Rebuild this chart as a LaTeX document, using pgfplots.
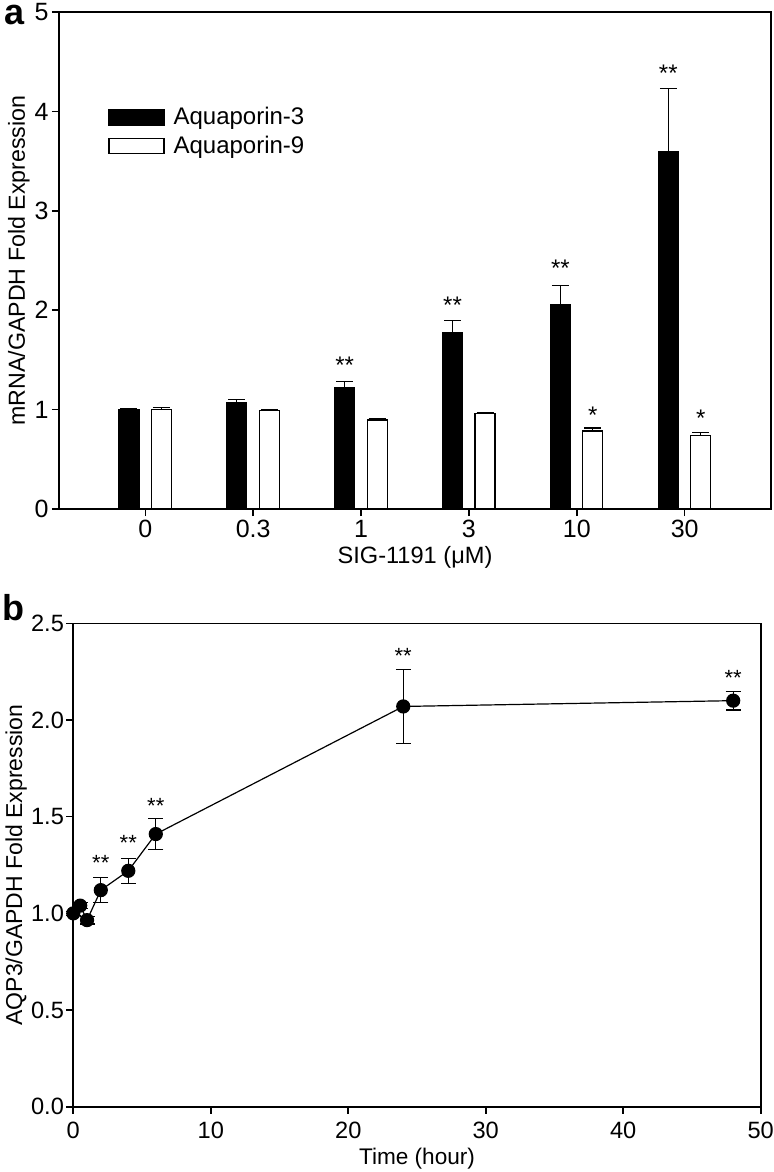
\documentclass[border=0pt]{standalone}
\usepackage{fontspec}
\setmainfont{Liberation Sans}
\usepackage{pgfplots}
\usepackage{pgfplotstable}
\pgfplotsset{compat=1.18}
\pgfplotstableread{
cat black berr white werr
0 1.00 0.010 1.00 0.025
1 1.07 0.035 0.99 0.010
2 1.22 0.065 0.895 0.012
3 1.77 0.130 0.96 0.005
4 2.06 0.190 0.785 0.030
5 3.60 0.630 0.74 0.030
}\dataA
\pgfplotstableread{
t y e
0 1.00 0.01
0.5 1.04 0.015
1 0.965 0.02
2 1.12 0.065
4 1.22 0.065
6 1.41 0.08
24 2.07 0.19
48 2.10 0.048
}\dataB
\begin{document}
\begin{tikzpicture}
\useasboundingbox (0,0) rectangle (387pt,-586pt);
\begin{axis}[
  at={(29.5pt,-254.5pt)}, anchor=south west,
  scale only axis, width=356pt, height=248.5pt,
  xmin=-0.8, xmax=5.8, ymin=0, ymax=5,
  xtick={0,...,5}, xticklabels={0,0.3,1,3,10,30},
  ytick={0,1,2,3,4,5},
  tick align=outside, major tick length=3.5pt,
  xtick pos=bottom, ytick pos=left,
  axis line style={line width=0.8pt},
  tick style={line width=0.8pt, black},
  ticklabel style={font=\fontsize{12.5}{14}\selectfont},
  /pgf/number format/assume math mode=true,
  xticklabel style={inner sep=2pt},
  yticklabel style={inner sep=1.5pt},
  xlabel={SIG-1191 (μM)},
  xlabel style={font=\fontsize{11.8}{14}\selectfont, at={(axis description cs:0.5,0)}, anchor=base, yshift=-27pt},
  ylabel={mRNA/GAPDH Fold Expression},
  ylabel style={font=\fontsize{11.6}{14}\selectfont, at={(axis description cs:-0.0478,0.5)}, anchor=base},
  legend style={at={(0.0688,0.817)}, anchor=north west, draw=none, fill=none,
    font=\fontsize{12}{14}\selectfont, inner sep=0pt, row sep=0pt,
    nodes={inner sep=2pt}},
  legend cell align=left,
  clip=false,
]
\addplot[ybar, bar width=10pt, bar shift=0pt, fill=black, draw=black, line width=0.6pt,
  legend image code/.code={\draw[fill=black, draw=black, line width=0.6pt] (0pt,-3.75pt) rectangle (27.5pt,3.75pt);},
  error bars/.cd, y dir=plus, y explicit,
  error bar style={line width=0.6pt, black},
  error mark options={rotate=90, line width=0.6pt, mark size=4.25pt, black}]
  table[x expr=\thisrow{cat}-0.152, y=black, y error=berr] {\dataA};
\addlegendentry{\hspace{2.5pt}Aquaporin-3}
\addplot[ybar, bar width=10pt, bar shift=0pt, fill=white, draw=black, line width=0.6pt,
  legend image code/.code={\draw[fill=white, draw=black, line width=0.6pt] (0pt,-3.75pt) rectangle (27.5pt,3.75pt);},
  error bars/.cd, y dir=plus, y explicit,
  error bar style={line width=0.6pt, black},
  error mark options={rotate=90, line width=0.6pt, mark size=4.25pt, black}]
  table[x expr=\thisrow{cat}+0.149, y=white, y error=werr] {\dataA};
\addlegendentry{\hspace{2.5pt}Aquaporin-9}
\begin{scope}[every node/.style={font=\fontsize{12}{14}\selectfont, inner sep=0pt, yshift=-2.6pt}]
\node at (axis cs:1.848,1.50) {**};
\node at (axis cs:2.848,2.10) {**};
\node at (axis cs:3.848,2.47) {**};
\node at (axis cs:4.848,4.44) {**};
\node at (axis cs:4.149,1.00) {*};
\node at (axis cs:5.149,0.97) {*};
\end{scope}
\end{axis}
\node[anchor=base west, font=\fontsize{18}{20}\selectfont\bfseries, inner sep=0pt] at (2pt,-12.5pt) {a};
\node[anchor=base west, font=\fontsize{18}{20}\selectfont\bfseries, inner sep=0pt] at (1pt,-310pt) {b};
\begin{axis}[
  at={(36.65pt,-553.35pt)}, anchor=south west,
  scale only axis, width=343.7pt, height=241.7pt,
  xmin=0, xmax=50, ymin=0, ymax=2.5,
  xtick={0,10,20,30,40,50},
  ytick={0,0.5,1,1.5,2,2.5},
  tick align=outside, major tick length=3.5pt,
  xtick pos=bottom, ytick pos=left,
  axis line style={line width=0.8pt},
  tick style={line width=0.8pt, black},
  ticklabel style={font=\fontsize{11.8}{13}\selectfont},
  /pgf/number format/assume math mode=true,
  yticklabel style={inner sep=1pt, /pgf/number format/.cd, fixed, fixed zerofill, precision=1},
  xticklabel style={inner sep=4pt},
  xlabel={Time (hour)},
  xlabel style={font=\fontsize{11.3}{13}\selectfont, at={(axis description cs:0.5,0)}, anchor=base, yshift=-29pt},
  ylabel={AQP3/GAPDH Fold Expression},
  ylabel style={font=\fontsize{11.5}{13}\selectfont, at={(axis description cs:-0.0745,0.5)}, anchor=base},
  clip=false,
]
\addplot[black, line width=0.6pt, mark=*, mark size=3.25pt, mark options={fill=black},
  error bars/.cd, y dir=both, y explicit,
  error bar style={line width=0.6pt, black},
  error mark options={rotate=90, line width=0.6pt, mark size=3.75pt, black}]
  table[x=t, y=y, y error=e] {\dataB};
\begin{scope}[every node/.style={font=\fontsize{11}{13}\selectfont, inner sep=0pt, yshift=-2.4pt}]
\node at (axis cs:2,1.284) {**};
\node at (axis cs:4,1.39) {**};
\node at (axis cs:6,1.58) {**};
\node at (axis cs:24,2.356) {**};
\node at (axis cs:48,2.24) {**};
\end{scope}
\end{axis}
\end{tikzpicture}
\end{document}
